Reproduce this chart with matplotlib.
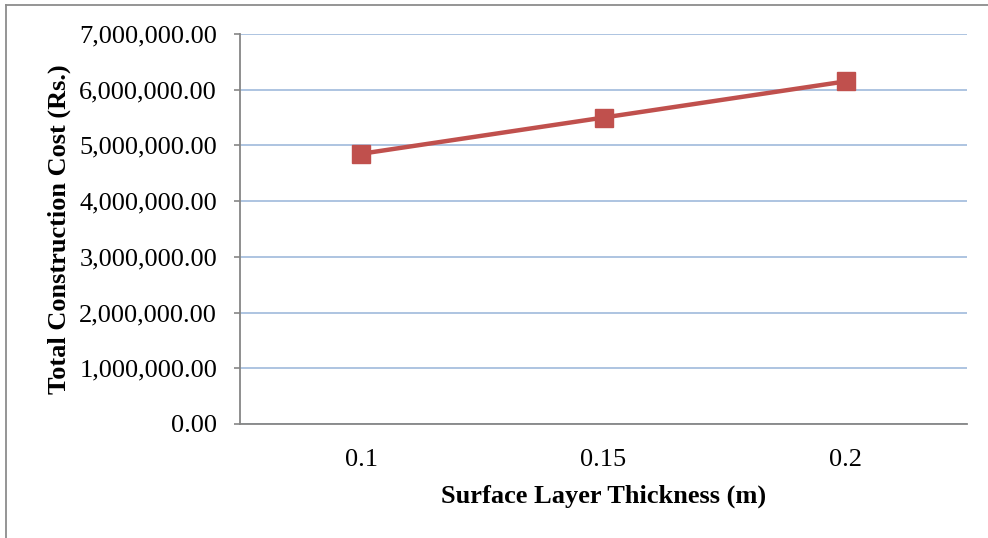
import matplotlib.pyplot as plt
from matplotlib.lines import Line2D
from matplotlib.ticker import FuncFormatter

# Surface layer thickness (m) and total construction cost (Rs.)
thickness = ["0.1", "0.15", "0.2"]
cost = [4_850_000, 5_500_000, 6_150_000]
y_ticks = [0, 1_000_000, 2_000_000, 3_000_000, 4_000_000, 5_000_000, 6_000_000, 7_000_000]

plt.rcParams["font.family"] = ["Liberation Serif", "DejaVu Serif"]

fig = plt.figure(figsize=(9.88, 5.38), dpi=100)
ax = fig.add_axes([240 / 988, 1 - 424 / 538, (967 - 240) / 988, (424 - 34) / 538])

x = list(range(len(thickness)))
ax.plot(x, cost, color="#C0504D", linewidth=3.2, marker="s", markersize=13,
        markerfacecolor="#C0504D", markeredgecolor="#C0504D", zorder=3)

ax.set_xlim(-0.5, len(thickness) - 0.5)
ax.set_ylim(0, 7_000_000)
ax.set_xticks(x)
ax.set_xticklabels(thickness)
ax.set_yticks(y_ticks)
ax.yaxis.set_major_formatter(FuncFormatter(lambda v, _: f"{v:,.2f}"))

ax.grid(axis="y", color="#A7BFDE", linewidth=1.3)
ax.set_axisbelow(True)
for side in ("top", "right"):
    ax.spines[side].set_visible(False)
for side in ("left", "bottom"):
    ax.spines[side].set_color("#868686")
    ax.spines[side].set_linewidth(1.3)

ax.tick_params(axis="y", length=4.5, width=1.2, color="#868686", labelsize=19, pad=12)
ax.tick_params(axis="x", length=0, labelsize=19, pad=18)

ax.set_xlabel("Surface Layer Thickness (m)", fontsize=19, fontweight="bold", labelpad=10)
ax.set_ylabel("Total Construction Cost (Rs.)", fontsize=19, fontweight="bold", labelpad=6)

# Chart frame (top and left edges)
fig.add_artist(Line2D([6 / 988, 1.0], [1 - 5 / 538, 1 - 5 / 538],
                      transform=fig.transFigure, color="#8C8C8C", linewidth=1.3))
fig.add_artist(Line2D([6 / 988, 6 / 988], [0.0, 1 - 5 / 538],
                      transform=fig.transFigure, color="#8C8C8C", linewidth=1.3))

fig.savefig("out.png", dpi=100)
